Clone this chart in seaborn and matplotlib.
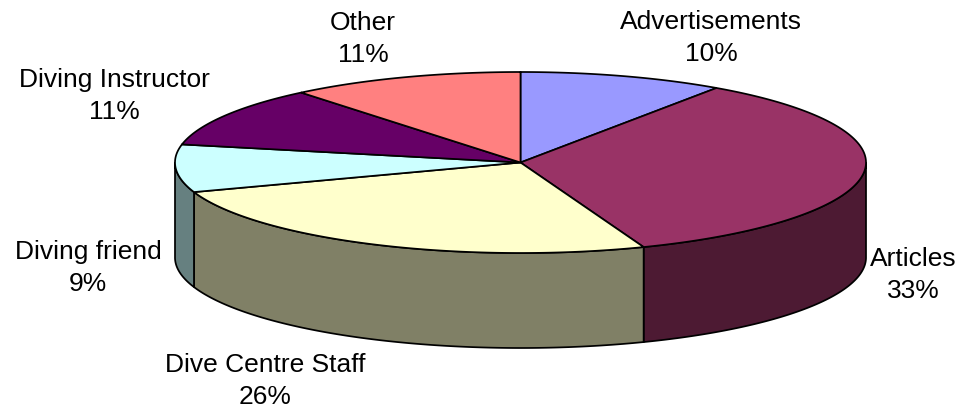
import numpy as np
import pandas as pd
import matplotlib
matplotlib.use("Agg")
import matplotlib.pyplot as plt
import seaborn as sns

categories = ["Advertisements", "Articles", "Dive Centre Staff", "Diving friend", "Diving Instructor", "Other"]
# printed percentages
values = [10, 33, 26, 9, 11, 11]
# slice sizes as measured on the drawn pie, they differ a bit from the printed ones
shares = [9.6, 34.6, 25.5, 8.5, 10.85, 10.95]
top_colors = ["#9999FF", "#993366", "#FFFFCC", "#CCFFFF", "#660066", "#FF8080"]
side_colors = ["#4D4D80", "#4D1A33", "#808066", "#668080", "#330033", "#804040"]
label_pos = [(711, 38), (913, 275), (265, 381), (88, 268), (114, 96), (363, 39)]

# pie geometry, in pixels
cx, cy = 520.5, 163.5
rx, ry = 345.5, 90.5
depth = 95

sns.set_theme(style="white")
plt.rcParams["font.family"] = ["Liberation Sans", "DejaVu Sans"]

df = pd.DataFrame({"category": categories, "value": shares})
df["end"] = df["value"].cumsum() / df["value"].sum() * 2 * np.pi
df["start"] = df["end"].shift(fill_value=0.0)


def rim(a, b):
    t = np.linspace(a, b, 200)
    return cx + rx * np.sin(t), cy - ry * np.cos(t)


fig = plt.figure(figsize=(9.68, 4.10), dpi=100)
ax = fig.add_axes([0, 0, 1, 1])
ax.set_xlim(0, 968)
ax.set_ylim(410, 0)
ax.axis("off")

# outer wall, only the front half shows
for i, row in df.iterrows():
    a = max(row["start"], np.pi / 2)
    b = min(row["end"], 3 * np.pi / 2)
    if a >= b:
        continue
    x, y = rim(a, b)
    ax.fill(np.r_[x, x[::-1]], np.r_[y, y[::-1] + depth], fc=side_colors[i], ec="black", lw=1.25, zorder=1)

# top face
for i, row in df.iterrows():
    x, y = rim(row["start"], row["end"])
    ax.fill(np.r_[cx, x], np.r_[cy, y], fc=top_colors[i], ec="black", lw=1.25, zorder=2)

for (lx, ly), name, v in zip(label_pos, categories, values):
    ax.text(lx, ly, f"{name}\n{v}%", ha="center", va="center", fontsize=19, color="black", linespacing=1.39)

fig.savefig("out.png", dpi=100)
